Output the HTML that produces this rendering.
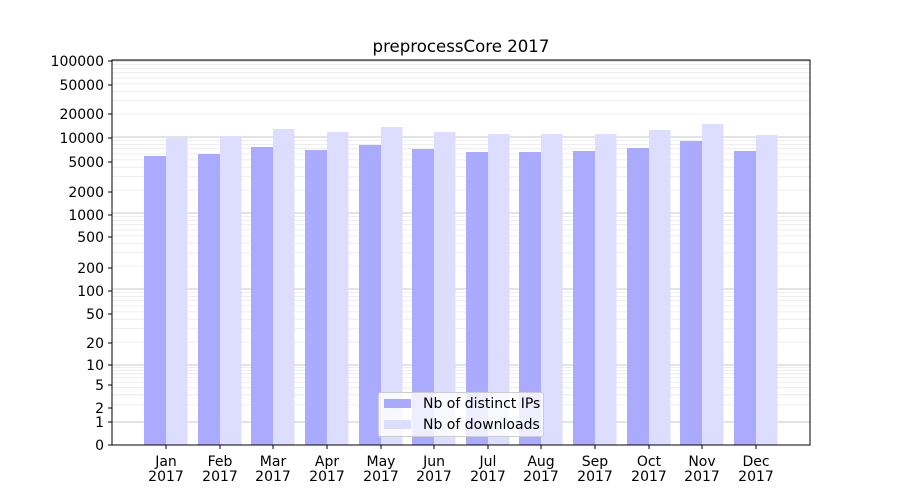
<!DOCTYPE html>
<html><head><style>
body{margin:0;background:#fff;}
svg{display:block;font-family:"DejaVu Sans","Liberation Sans",sans-serif;}
</style></head><body>
<svg id="s" width="900" height="500" xmlns="http://www.w3.org/2000/svg">
<rect width="900" height="500" fill="#fff"/>
<g id="grid"></g>
<g id="bars"></g>
<rect x="112" y="60" width="698" height="385" fill="none" stroke="#000" stroke-width="1"/>
<g id="ticks" font-size="14" fill="#000"></g>
<text x="461" y="52" font-size="16.6" text-anchor="middle">preprocessCore 2017</text>
<g>
<rect x="378.5" y="392.5" width="165" height="44" rx="2" fill="#fff" fill-opacity="0.8" stroke="#ccc"/>
<rect x="384" y="399" width="27" height="9" fill="#aaaaff"/>
<rect x="384" y="420" width="27" height="9" fill="#ddddff"/>
<text x="423" y="408" font-size="14">Nb of distinct IPs</text>
<text x="423" y="429" font-size="14">Nb of downloads</text>
</g>
</svg>
<script>
var NS="http://www.w3.org/2000/svg";
function el(p,t,a,txt){var e=document.createElementNS(NS,t);for(var k in a)e.setAttribute(k,a[k]);if(txt!==undefined)e.textContent=txt;document.getElementById(p).appendChild(e);return e;}
var D=76;
function Y(v){if(v<=1)return 445-23*v;if(v<=10)return 422-57*Math.log10(v);return 365-D*Math.log10(v/10);}
var decs=[1,10,100,1000,10000];
decs.forEach(function(d){for(var k=2;k<=9;k++){var y=Y(d*k);el("grid","line",{x1:112,x2:810,y1:y,y2:y,stroke:"#e8e8e8","stroke-width":0.8});}});
[1,10,100,1000,10000,100000].forEach(function(v){var y=Y(v);el("grid","line",{x1:112,x2:810,y1:y,y2:y,stroke:"#b8b8b8","stroke-width":0.8});});
var c=[166,220,273,327,381,434,488,541,595,649,702,756];
var b=[156,154,147,150,145,149,152,152,151,148,141,151];
var l=[138,136,129,132,127,132,134,134,134,130,124,135];
var m=["Jan","Feb","Mar","Apr","May","Jun","Jul","Aug","Sep","Oct","Nov","Dec"];
for(var i=0;i<12;i++){
el("bars","rect",{x:c[i]-22,y:b[i],width:22,height:445-b[i],fill:"#aaaaff"});
el("bars","rect",{x:c[i],y:l[i],width:21.5,height:445-l[i],fill:"#ddddff"});
el("ticks","line",{x1:c[i],x2:c[i],y1:445,y2:449,stroke:"#000"});
el("ticks","text",{x:c[i],y:466,"text-anchor":"middle"},m[i]);
el("ticks","text",{x:c[i],y:481,"text-anchor":"middle"},"2017");
}
var yt=[[0,445],[1,422],[2,408],[5,385],[10,365],[20,343],[50,314],[100,291],[200,268],[500,237],[1000,215],[2000,192],[5000,162],[10000,138],[20000,114],[50000,85],[100000,61]];
yt.forEach(function(t){el("ticks","line",{x1:108,x2:112,y1:t[1],y2:t[1],stroke:"#000"});el("ticks","text",{x:104,y:t[1]+5,"text-anchor":"end"},String(t[0]));});
</script>
</body></html>
